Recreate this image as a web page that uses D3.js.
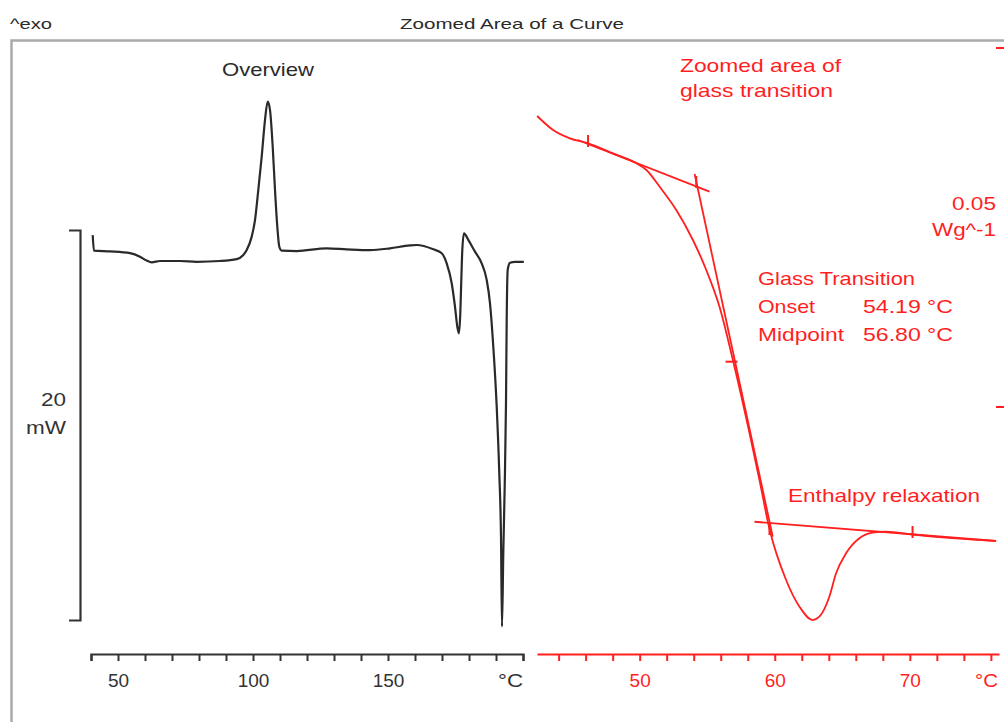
<!DOCTYPE html>
<html>
<head>
<meta charset="utf-8">
<script src="https://cdn.jsdelivr.net/npm/d3@7"></script>
<style>
  body { margin: 0; background: #fff; }
  svg text { font-family: "Liberation Sans", Arial, sans-serif; }
</style>
</head>
<body>
<div id="chart"></div>
<script>
// overview DSC curve: temperature (°C) / heat flow (mW)
const overviewTemp = [40.63, 41.11, 47.04, 54.44, 58.15, 60.63, 62.48, 65.56, 72.96, 79.15, 87.78, 93.96, 96.41,
  97.67, 99.52, 100.74, 101.96, 103.22, 104.44, 105.44, 106.30, 107.30, 108.15, 109.0, 109.74, 110.63, 116.19,
  127.30, 134.70, 143.33, 150.74, 158.15, 160.63, 166.78, 169.89, 171.74, 173.59, 174.81, 175.67, 176.30, 176.78,
  177.15, 177.52, 178.15, 179.74, 182.22, 184.70, 186.56, 187.78, 189.0, 190.26, 191.22, 191.85, 192.22, 192.70,
  193.22, 193.70, 193.96, 194.33, 195.19, 197.04, 200.3];
const overviewFlow = [19.74, 18.94, 18.90, 18.81, 18.63, 18.43, 18.34, 18.41, 18.41, 18.37, 18.41, 18.51, 18.72,
  18.97, 19.66, 20.51, 22.05, 23.76, 25.64, 26.58, 26.15, 24.27, 22.05, 20.17, 19.14, 18.94, 18.92,
  19.06, 19.01, 18.97, 19.06, 19.21, 19.23, 19.01, 18.81, 18.29, 17.27, 16.07, 15.04, 14.70, 15.73,
  17.44, 18.97, 19.83, 19.49, 18.89, 18.29, 17.44, 16.24, 14.02, 10.94, 7.52, 4.27, -0.34, 3.42,
  6.84, 11.11, 15.38, 17.95, 18.32, 18.37, 18.37];

// zoomed glass transition: temperature (°C) / heat flow (W/g)
const zoomTemp = [42.41, 43.59, 44.83, 46.18, 48.03, 49.76, 50.50, 51.48, 52.71, 53.94, 54.93, 55.91, 56.90,
  58.13, 58.87, 59.61, 60.84, 61.83, 62.81, 63.30, 64.04, 64.54, 65.28, 66.26, 67.24, 68.23, 70.20, 73.13, 76.36];
const zoomFlow = [0.04053, 0.03858, 0.03742, 0.03673, 0.03533, 0.03394, 0.03301, 0.03068, 0.02744, 0.02326,
  0.01908, 0.01397, 0.00655, -0.00362, -0.01017, -0.01699, -0.02409, -0.02781, -0.02967, -0.02921, -0.02642,
  -0.02316, -0.02038, -0.01829, -0.01751, -0.01737, -0.01776, -0.01825, -0.01866];

// evaluation lines (tangents)
const upperTangentTemp = [45.42, 55.17];
const upperTangentFlow = [0.03719, 0.02999];
const inflectionTemp = [54.07, 59.85];
const inflectionFlow = [0.03245, -0.01806];
const lowerTangentTemp = [58.50, 76.39];
const lowerTangentFlow = [-0.01598, -0.01866];

// evaluation markers: limits, onset, midpoint
const markTemp = [46.18, 54.19, 56.80, 59.61, 70.20];
const markFlow = [0.03705, 0.03134, 0.00631, -0.01699, -0.01741];
const markDir = ["v", "v", "h", "v", "v"];

const overviewTicks = [50, 100, 150];
const zoomTicks = [50, 60, 70];
const overviewScaleBar = [0, 20];    // mW
const zoomScaleBar = [0, 0.05];      // W/g

const width = 1004, height = 722;
const black = "#2a2a2a", red = "#ff1f1f";

const svg = d3.select("#chart").append("svg")
  .attr("width", width)
  .attr("height", height);

// frame
svg.append("path")
  .attr("d", "M11.5,722V40.5H1004")
  .attr("fill", "none")
  .attr("stroke", "#aaa")
  .attr("stroke-width", 2.5);

// scales
const xOver = d3.scaleLinear().domain([40, 200]).range([91, 523]);
const yOver = d3.scaleLinear().domain(overviewScaleBar).range([620, 230]);
const xZoom = d3.scaleLinear().domain([42.4, 76.6]).range([537, 999]);
const yZoom = d3.scaleLinear().domain(zoomScaleBar).range([407, 48]);

// left scale bracket (20 mW)
const bracket = svg.append("g")
  .attr("transform", "translate(80,0)")
  .call(d3.axisLeft(yOver).tickValues([]).tickSizeOuter(11));
bracket.select(".domain").attr("stroke", "#333").attr("stroke-width", 2.2);

// bottom axes
const axisOver = svg.append("g")
  .attr("transform", "translate(0,654)")
  .call(d3.axisBottom(xOver)
    .tickValues(d3.range(40, 201, 10))
    .tickSize(7).tickSizeOuter(7)
    .tickFormat(d => overviewTicks.includes(d) ? d : ""));
axisOver.select(".domain").attr("stroke", "#333").attr("stroke-width", 2.2);
axisOver.selectAll(".tick line").attr("stroke", "#333").attr("stroke-width", 2);
axisOver.selectAll(".tick text").attr("y", 33).attr("dy", 0)
  .attr("font-size", 19).attr("fill", "#333").attr("font-family", "Liberation Sans, Arial, sans-serif");

const axisZoom = svg.append("g")
  .attr("transform", "translate(0,654)")
  .call(d3.axisBottom(xZoom)
    .tickValues(d3.range(44, 77, 2))
    .tickSize(7).tickSizeOuter(0)
    .tickFormat(d => zoomTicks.includes(d) ? d : ""));
axisZoom.select(".domain").attr("stroke", red).attr("stroke-width", 2.2);
axisZoom.selectAll(".tick line").attr("stroke", red).attr("stroke-width", 2);
axisZoom.selectAll(".tick text").attr("y", 33).attr("dy", 0)
  .attr("font-size", 19).attr("fill", red).attr("font-family", "Liberation Sans, Arial, sans-serif");

// right scale marks (0.05 W/g)
svg.selectAll(".zmark")
  .data(zoomScaleBar)
  .enter().append("line")
  .attr("class", "zmark")
  .attr("x1", 996).attr("x2", 1004)
  .attr("y1", d => yZoom(d)).attr("y2", d => yZoom(d))
  .attr("stroke", red).attr("stroke-width", 2);

// curves
const overData = overviewTemp.map((t, i) => [t, overviewFlow[i]]);
svg.append("path")
  .datum(overData)
  .attr("fill", "none")
  .attr("stroke", black)
  .attr("stroke-width", 2.2)
  .attr("stroke-linejoin", "round")
  .attr("d", d3.line().x(d => xOver(d[0])).y(d => yOver(d[1])).curve(d3.curveMonotoneX));

const zoomLine = d3.line().x(d => xZoom(d[0])).y(d => yZoom(d[1]));
const zoomData = zoomTemp.map((t, i) => [t, zoomFlow[i]]);
svg.append("path")
  .datum(zoomData)
  .attr("fill", "none")
  .attr("stroke", red)
  .attr("stroke-width", 1.8)
  .attr("d", zoomLine.curve(d3.curveMonotoneX));

const tangents = [
  [upperTangentTemp, upperTangentFlow],
  [inflectionTemp, inflectionFlow],
  [lowerTangentTemp, lowerTangentFlow]
];
svg.selectAll(".tangent")
  .data(tangents)
  .enter().append("line")
  .attr("class", "tangent")
  .attr("x1", d => xZoom(d[0][0])).attr("y1", d => yZoom(d[1][0]))
  .attr("x2", d => xZoom(d[0][1])).attr("y2", d => yZoom(d[1][1]))
  .attr("stroke", red).attr("stroke-width", 1.8);

svg.selectAll(".evmark")
  .data(markTemp.map((t, i) => ({ t, v: markFlow[i], dir: markDir[i] })))
  .enter().append("line")
  .attr("class", "evmark")
  .attr("x1", d => xZoom(d.t) - (d.dir === "h" ? 6 : 0))
  .attr("x2", d => xZoom(d.t) + (d.dir === "h" ? 6 : 0))
  .attr("y1", d => yZoom(d.v) - (d.dir === "v" ? 6 : 0))
  .attr("y2", d => yZoom(d.v) + (d.dir === "v" ? 6 : 0))
  .attr("stroke", red).attr("stroke-width", 2);

// texts: [text, x (left), baseline, size, width, color]
const labels = [
  ["^exo", 10, 29, 15, 42, black],
  ["Zoomed Area of a Curve", 400, 29, 15, 224, black],
  ["Overview", 222, 76, 19, 92, black],
  ["20", 41, 406, 19, 25, "#333"],
  ["mW", 26, 434, 19, 40, "#333"],
  ["°C", 498, 687, 19, 25, "#333"],
  ["Zoomed area of", 680, 72, 19, 161, red],
  ["glass transition", 680, 97, 19, 153, red],
  ["0.05", 952, 210, 19, 44, red],
  ["Wg^-1", 932, 236, 19, 64, red],
  ["Glass Transition", 758, 285, 19, 157, red],
  ["Onset", 758, 313, 19, 57, red],
  ["54.19 °C", 863, 313, 19, 90, red],
  ["Midpoint", 758, 341, 19, 86, red],
  ["56.80 °C", 863, 341, 19, 90, red],
  ["Enthalpy relaxation", 788, 502, 19, 192, red],
  ["°C", 975, 687, 19, 23, red]
];
svg.selectAll(".lbl")
  .data(labels)
  .enter().append("text")
  .attr("class", "lbl")
  .attr("x", d => d[1]).attr("y", d => d[2])
  .attr("font-size", d => d[3])
  .attr("textLength", d => d[4])
  .attr("lengthAdjust", "spacingAndGlyphs")
  .attr("fill", d => d[5])
  .text(d => d[0]);
</script>
</body>
</html>
